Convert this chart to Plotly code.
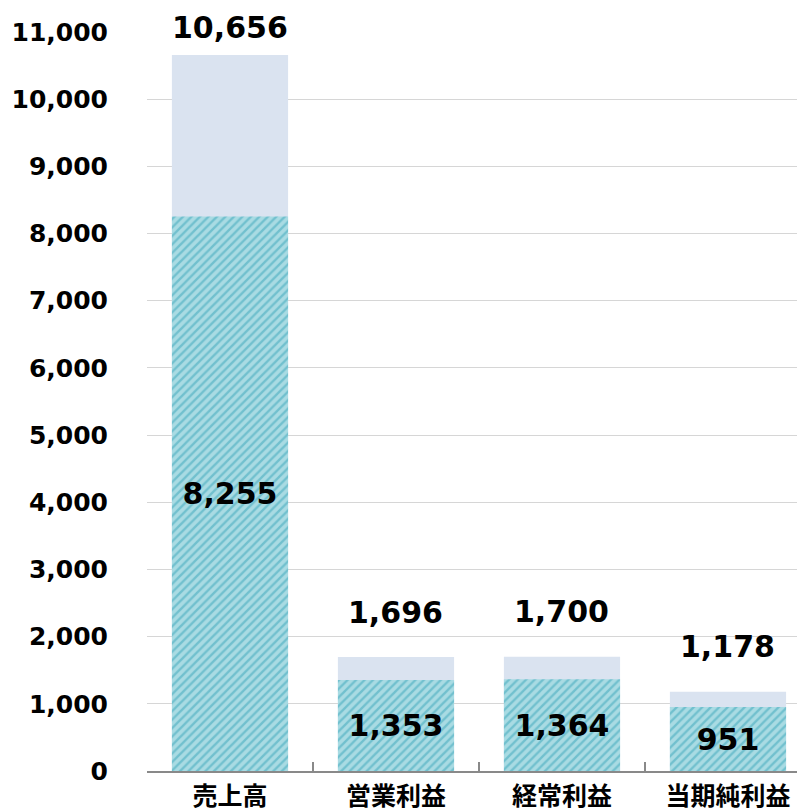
import plotly.graph_objects as go

categories = ["売上高", "営業利益", "経常利益", "当期純利益"]
totals = [10656, 1696, 1700, 1178]
inner = [8255, 1353, 1364, 951]
y_ticks = list(range(0, 11001, 1000))

FONT = "DejaVu Sans, Verdana, Noto Sans CJK JP, sans-serif"

fig = go.Figure()
fig.add_trace(go.Bar(
    x=categories, y=totals, width=0.7,
    marker=dict(color="#DAE3F0", line=dict(width=0)),
    hoverinfo="skip", showlegend=False,
))
fig.add_trace(go.Bar(
    x=categories, y=inner, width=0.7,
    marker=dict(color="#A9DBE3", line=dict(width=0),
                pattern=dict(shape="/", fgcolor="#3AA5B9", bgcolor="#A9DBE3",
                             size=6, solidity=0.4)),
    text=[f"{v:,}" for v in inner], texttemplate="%{text}",
    textposition="inside", insidetextanchor="middle", textangle=0,
    constraintext="none",
    textfont=dict(family=FONT, size=30, color="black", weight="bold"),
    hoverinfo="skip", showlegend=False,
))

shifts = [28, 45, 45, 45]
for c, v, s in zip(categories, totals, shifts):
    fig.add_annotation(x=c, y=v, text=f"{v:,}", showarrow=False,
                       yanchor="middle", yshift=s,
                       font=dict(family=FONT, size=30, color="black", weight="bold"))

# page body has an 8px default margin; figure sized to fit the 805x810 window
fig.update_layout(
    width=797, height=802,
    margin=dict(l=139, r=0, t=24, b=39, autoexpand=False),
    barmode="overlay",
    plot_bgcolor="white", paper_bgcolor="white",
    font=dict(family=FONT, color="black"),
)
fig.update_xaxes(
    type="category", automargin=False,
    range=[-0.5, 3.464],
    tickson="boundaries", ticks="inside", ticklen=9, tickwidth=1.5,
    tickcolor="#898989",
    showline=True, linecolor="#898989", linewidth=1.5,
    showgrid=False, zeroline=False,
    tickfont=dict(family="Noto Sans CJK JP, sans-serif", size=25, color="black", weight="bold"),
    ticklabelstandoff=2,
)
fig.update_yaxes(
    automargin=False,
    range=[0, 11000],
    tickmode="array", tickvals=y_ticks, ticktext=[f"{v:,}" for v in y_ticks],
    showgrid=True, gridcolor="#D6D6D6", gridwidth=1.2,
    zeroline=False, showline=False, ticks="",
    tickfont=dict(family=FONT, size=25, color="black", weight="bold"),
    ticklabelstandoff=38,
)

fig.write_html("out.html")
